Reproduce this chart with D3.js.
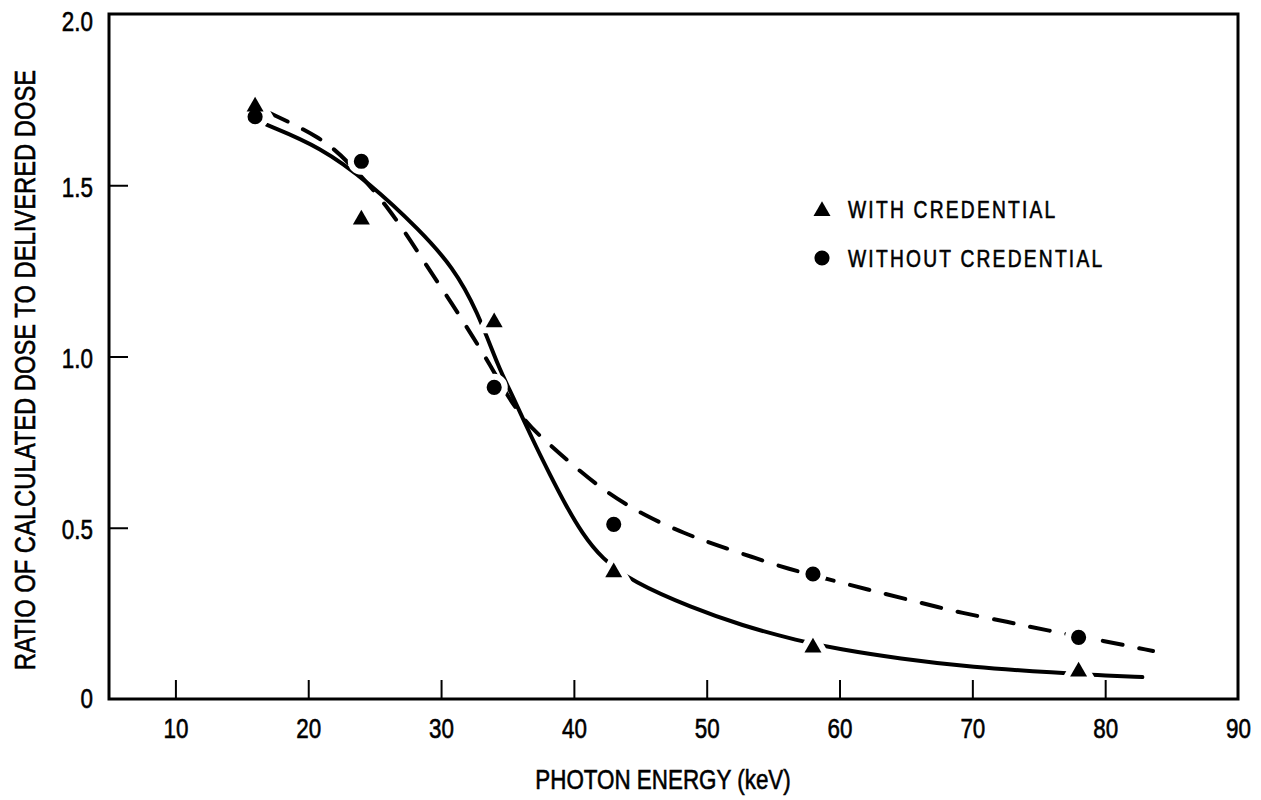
<!DOCTYPE html>
<html>
<head>
<meta charset="utf-8">
<script src="https://cdn.jsdelivr.net/npm/d3@7"></script>
<style>
  html, body { margin: 0; padding: 0; background: #fff; }
  svg { display: block; }
  text { font-family: 'Liberation Sans', Arial, sans-serif; fill: #000; stroke: #000; stroke-width: 0.6px; }
</style>
</head>
<body>
<svg id="chart" width="1261" height="800"></svg>
<script>
// Measured points (photon energy in keV, dose ratio)
const energy = [16, 24, 34, 43, 58, 78];
const withCredential = [1.73, 1.40, 1.10, 0.37, 0.15, 0.08];
const withoutCredential = [1.70, 1.57, 0.91, 0.51, 0.365, 0.18];

// Hand-drawn fit curves through the measurements
const fitWithX = [16.9, 20.9, 24.6, 28.4, 30.9, 32.7, 34.4, 35.3, 36.9, 38.2, 39.4, 40.6, 42.1, 44.4, 48.9, 52.6, 56.9, 59.9, 64.5, 69.9, 76.6, 79.3, 82.8];
const fitWithY = [1.676, 1.612, 1.507, 1.369, 1.261, 1.136, 0.961, 0.893, 0.756, 0.655, 0.565, 0.485, 0.41, 0.342, 0.266, 0.215, 0.170, 0.146, 0.118, 0.093, 0.076, 0.070, 0.064];
const fitWithoutX = [17.1, 20.9, 22.9, 26.1, 29.1, 30.8, 32.4, 33.8, 34.6, 36.3, 37.8, 39.9, 42.5, 45.4, 48.4, 50.7, 53.4, 55.9, 60.2, 62.9, 66.2, 69.2, 72.7, 75.5, 80.0, 83.6];
const fitWithoutY = [1.711, 1.641, 1.574, 1.436, 1.253, 1.156, 1.057, 0.969, 0.91, 0.809, 0.756, 0.683, 0.601, 0.534, 0.482, 0.450, 0.415, 0.382, 0.339, 0.312, 0.280, 0.251, 0.225, 0.201, 0.169, 0.140];

const seriesNames = ["WITH CREDENTIAL", "WITHOUT CREDENTIAL"];
const xTicks = [10, 20, 30, 40, 50, 60, 70, 80, 90];
const yTicks = [0, 0.5, 1.0, 1.5, 2.0];
const yTickLabels = ["0", "0.5", "1.0", "1.5", "2.0"];

const svg = d3.select("#chart");
const x = d3.scaleLinear().domain([5, 90]).range([109, 1238]);
const y = d3.scaleLinear().domain([0, 2]).range([699, 14]);

const ink = "#000";
const squeeze = 0.8;   // condensed lettering: horizontal squeeze of the glyphs

// Plot frame
svg.append("rect")
  .attr("x", x(5)).attr("y", y(2))
  .attr("width", x(90) - x(5)).attr("height", y(0) - y(2))
  .attr("fill", "none").attr("stroke", ink).attr("stroke-width", 3);

// Bottom axis: inward ticks, labels below
const xAxis = d3.axisBottom(x)
  .tickValues(xTicks)
  .tickSizeInner(-19).tickSizeOuter(0)
  .tickFormat(d3.format("d"));
const gx = svg.append("g").attr("transform", `translate(0,${y(0)})`).call(xAxis);
gx.select(".domain").remove();
gx.selectAll(".tick line").attr("stroke", ink).attr("stroke-width", 2)
  .attr("display", d => (d === 90 ? "none" : null));
gx.selectAll(".tick text")
  .attr("font-family", null).attr("font-size", 28)
  .attr("x", 0).attr("y", 39).attr("dy", null)
  .attr("transform", `scale(${squeeze},1)`);

// Left axis: inward ticks, labels to the left
const yAxis = d3.axisLeft(y)
  .tickValues(yTicks)
  .tickSizeInner(-19).tickSizeOuter(0)
  .tickFormat((d, i) => yTickLabels[i]);
const gy = svg.append("g").attr("transform", `translate(${x(5)},0)`).call(yAxis);
gy.select(".domain").remove();
gy.selectAll(".tick line").attr("stroke", ink).attr("stroke-width", 2)
  .attr("display", d => (d === 0 || d === 2 ? "none" : null));
gy.selectAll(".tick text")
  .attr("font-family", null).attr("font-size", 28)
  .attr("x", -16 / squeeze).attr("dy", null)
  .attr("y", d => (d === 2 ? 16 : d === 0 ? 8 : 11))
  .attr("transform", `scale(${squeeze},1)`);

// Axis titles
svg.append("text")
  .attr("transform", `translate(663,789) scale(${squeeze},1)`)
  .attr("text-anchor", "middle")
  .attr("font-size", 28)
  .text("PHOTON ENERGY (keV)");

svg.append("text")
  .attr("transform", `translate(35,370) rotate(-90) scale(0.82,1)`)
  .attr("text-anchor", "middle")
  .attr("font-size", 29)
  .text("RATIO OF CALCULATED DOSE TO DELIVERED DOSE");

// Fit curves
const line = d3.line()
  .x(d => x(d[0])).y(d => y(d[1]))
  .curve(d3.curveBasis);

svg.append("path")
  .datum(d3.zip(fitWithX, fitWithY))
  .attr("d", line)
  .attr("fill", "none").attr("stroke", ink)
  .attr("stroke-width", 4).attr("stroke-linecap", "round");

svg.append("path")
  .datum(d3.zip(fitWithoutX, fitWithoutY))
  .attr("d", line)
  .attr("fill", "none").attr("stroke", ink)
  .attr("stroke-width", 4).attr("stroke-linecap", "round")
  .attr("stroke-dasharray", "20,17");

// Markers
const tri = d3.symbol(d3.symbolTriangle, 125);
const dot = d3.symbol(d3.symbolCircle, 180);
const ptsWith = d3.zip(energy, withCredential);
const ptsWithout = d3.zip(energy, withoutCredential);

// white clearance so the curves break around each marker
const halo = svg.append("g");
halo.selectAll("path.tw").data(ptsWith).join("path")
  .attr("d", tri)
  .attr("transform", d => `translate(${x(d[0])},${y(d[1])})`)
  .attr("fill", "#fff").attr("stroke", "#fff").attr("stroke-width", 12);
halo.selectAll("path.cw").data(ptsWithout).join("path")
  .attr("d", dot)
  .attr("transform", d => `translate(${x(d[0])},${y(d[1])})`)
  .attr("fill", "#fff").attr("stroke", "#fff").attr("stroke-width", 12);

const marks = svg.append("g");
marks.selectAll("path.c").data(ptsWithout).join("path")
  .attr("d", dot)
  .attr("transform", d => `translate(${x(d[0])},${y(d[1])})`)
  .attr("fill", ink);
marks.selectAll("path.t").data(ptsWith).join("path")
  .attr("d", tri)
  .attr("transform", d => `translate(${x(d[0])},${y(d[1])})`)
  .attr("fill", ink);

// Legend
const legend = svg.append("g");
const legendSymbols = [tri, dot];
seriesNames.forEach((name, i) => {
  const ly = 209 + i * 49;
  legend.append("path")
    .attr("d", legendSymbols[i])
    .attr("transform", `translate(822,${ly + (i === 0 ? 2 : 0)})`)
    .attr("fill", ink);
  legend.append("text")
    .attr("transform", `translate(848,${ly + 8.5}) scale(${squeeze},1)`)
    .attr("font-size", 24)
    .attr("letter-spacing", 2.8)
    .text(name);
});
</script>
</body>
</html>
